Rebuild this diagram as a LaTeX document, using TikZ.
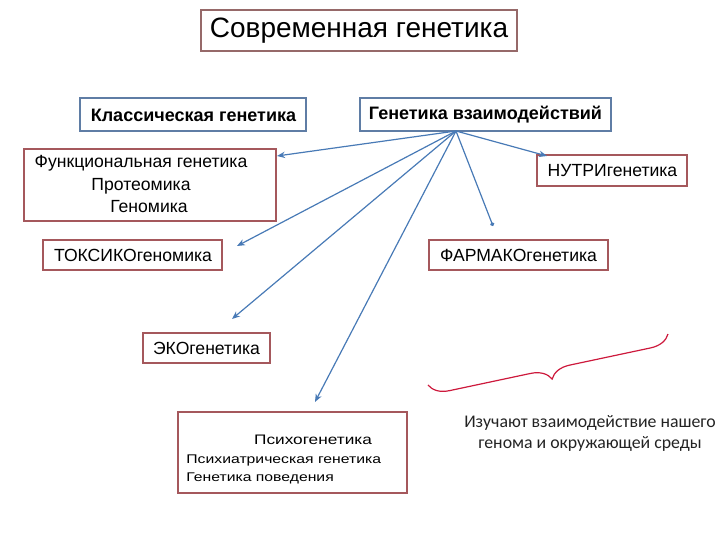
\documentclass[tikz,border=0pt]{standalone}
\usepackage{fontspec}
\setmainfont{Liberation Sans}
\newfontfamily\calibfont{Carlito}
\newfontfamily\widefont{Liberation Sans}[FakeStretch=1.25]
\usepackage{xcolor}
\usepackage{tikz}
\usetikzlibrary{arrows.meta,positioning,calc,decorations.pathreplacing}
\definecolor{boxred}{RGB}{165,88,92}
\definecolor{titlered}{RGB}{150,105,105}
\definecolor{boxblue}{RGB}{95,125,165}
\definecolor{arrblue}{RGB}{72,122,182}
\definecolor{bracered}{RGB}{205,25,60}
\definecolor{notegray}{RGB}{35,35,35}

\begin{document}
\begin{tikzpicture}[
  x=0.5pt, y=-0.5pt,
  font=\fontsize{8.8}{10.6}\selectfont,
  >={Stealth[length=4pt,width=3.2pt]},
  box/.style={draw=boxred, fill=white, line width=1pt, inner sep=0pt, align=center},
  topbox/.style={box, draw=boxblue, font=\fontsize{9}{11}\selectfont\bfseries},
  ar/.style={->, draw=arrblue, line width=0.6pt},
  dotar/.style={-{Circle[length=2pt]}, draw=arrblue, line width=0.6pt},
  brc/.style={draw=bracered, line width=0.6pt, decorate},
  note/.style={font=\calibfont\fontsize{8.9}{10.5}\selectfont, text=notegray, align=center},
]
\useasboundingbox (0,0) rectangle (720,540);
\node[box, draw=titlered, font=\fontsize{14}{17}\selectfont, minimum width=158pt, minimum height=20.5pt] (title) at (359,31) {Современная генетика};
\node[topbox, minimum width=113pt, minimum height=16.5pt] (classic) at (193.5,115) {Классическая генетика};
\node[topbox, minimum width=125.5pt, minimum height=16.5pt] (interact) at (485.5,115) {Генетика взаимодействий};
\node[box, minimum width=126pt, minimum height=36pt] (func) at (150.5,185) {};
\node[align=center, inner sep=0pt] (functxt) at (141,184) {Функциональная генетика\\[0.6pt]Протеомика\\[0.6pt]\hspace*{8pt}Геномика};
\node[box, minimum width=75pt, minimum height=15.5pt] (nutri) at (612.5,170.5) {НУТРИгенетика};
\node[box, minimum width=89.5pt, minimum height=15pt] (toxic) at (133,255.5) {ТОКСИКОгеномика};
\node[box, minimum width=89.5pt, minimum height=15pt] (pharma) at (518.5,255.5) {ФАРМАКОгенетика};
\node[box, minimum width=63.5pt, minimum height=15pt] (eco) at (206.5,348.5) {ЭКОгенетика};
\node[box, minimum width=114.5pt, minimum height=40.5pt] (psycho) at (292.5,453) {};
\node[inner sep=0pt, font=\widefont\fontsize{6.9}{8}\selectfont] (psyhead) at (313,440) {Психогенетика};
\node[inner sep=0pt, anchor=west, font=\widefont\fontsize{6.3}{7.5}\selectfont] (psyline1) at (186,460) {Психиатрическая генетика};
\node[inner sep=0pt, anchor=west, font=\widefont\fontsize{6.3}{7.5}\selectfont] (psyline2) at (186,478.5) {Генетика поведения};
\node[note] (studytxt) at (590,433) {Изучают взаимодействие нашего\\генома и окружающей среды};
\coordinate (hub) at (456,131);
\coordinate (tofunc) at (277,156);
\coordinate (tonutri) at (547,156);
\coordinate (topharma) at (493,226);
\coordinate (totoxic) at (237,246);
\coordinate (toeco) at (232,319);
\coordinate (topsycho) at (315,402);
\coordinate (brL) at (428,385);
\coordinate (brR) at (668,334);
\draw[ar] (hub) -- (tofunc);
\draw[ar] (hub) -- (tonutri);
\draw[dotar] (hub) -- (topharma);
\draw[ar] (hub) -- (totoxic);
\draw[ar] (hub) -- (toeco);
\draw[ar] (hub) -- (topsycho);
\draw[brc, decoration={brace, amplitude=10pt, mirror}] (brL) -- (brR);
\end{tikzpicture}
\end{document}
